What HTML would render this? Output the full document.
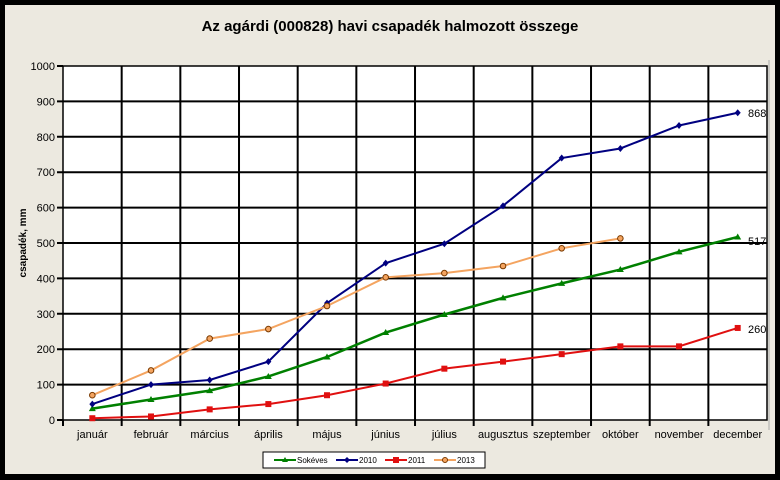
<!DOCTYPE html><html><head><meta charset="utf-8"><style>body{margin:0}svg{display:block}text{font-family:"Liberation Sans",Arial,sans-serif}</style></head><body>
<svg width="780" height="480" viewBox="0 0 780 480" xmlns="http://www.w3.org/2000/svg">
<rect x="0" y="0" width="780" height="480" fill="#000"/>
<rect x="5" y="5" width="770" height="469" fill="#ECE9E0"/>
<text x="390" y="31" text-anchor="middle" font-size="15" font-weight="bold">Az agárdi (000828) havi csapadék halmozott összege</text>
<rect x="63" y="66" width="704" height="354" fill="#fff" stroke="#000" stroke-width="1.5"/>
<line x1="769" y1="60" x2="769" y2="430" stroke="#aaa" stroke-width="1"/>
<g id="g" stroke="#000" stroke-width="2"></g>
<g id="lab" font-size="11" fill="#000"></g>
<text transform="translate(26,243) rotate(-90)" text-anchor="middle" font-size="10" font-weight="bold">csapadék, mm</text>
<g id="s"></g>
<g font-size="11"><text x="748" y="117">868</text><text x="748" y="245">517</text><text x="748" y="333">260</text></g>
<rect x="263" y="452" width="222" height="16" fill="#fff" stroke="#000" stroke-width="1"/>
<g font-size="8">
<line x1="274" y1="460" x2="296" y2="460" stroke="#008000" stroke-width="2"/><path d="M285 457 L288 462 L282 462Z" fill="#008000"/><text x="297" y="463">Sokéves</text>
<line x1="336" y1="460" x2="358" y2="460" stroke="#000080" stroke-width="2"/><path d="M347 457 L350 460 L347 463 L344 460Z" fill="#000080"/><text x="359" y="463">2010</text>
<line x1="385" y1="460" x2="407" y2="460" stroke="#e01010" stroke-width="2"/><rect x="393" y="457" width="6" height="6" fill="#e01010"/><text x="408" y="463">2011</text>
<line x1="434" y1="460" x2="456" y2="460" stroke="#F4A460" stroke-width="2"/><circle cx="445" cy="460" r="2.5" fill="#F4A460" stroke="#7a3a00"/><text x="457" y="463">2013</text>
</g>
</svg>
<script>
var ns="http://www.w3.org/2000/svg",g=document.getElementById("g"),lab=document.getElementById("lab"),s=document.getElementById("s");
function el(p,t,a,txt){var e=document.createElementNS(ns,t);for(var k in a)e.setAttribute(k,a[k]);if(txt)e.textContent=txt;p.appendChild(e);return e;}
var X0=63,W=58.67,Y0=420,H=0.354;
for(var i=1;i<10;i++){var y=Y0-i*35.4;el(g,"line",{x1:57,y1:y,x2:767,y2:y});}
el(g,"line",{x1:57,y1:66,x2:63,y2:66});el(g,"line",{x1:57,y1:420,x2:63,y2:420});
for(var i=1;i<12;i++){var x=X0+i*W;el(g,"line",{x1:x,y1:66,x2:x,y2:426});}
el(g,"line",{x1:63,y1:420,x2:63,y2:426});
for(var i=0;i<=10;i++)el(lab,"text",{x:55,y:Y0-i*35.4+4,"text-anchor":"end"},String(i*100));
var m=["január","február","március","április","május","június","július","augusztus","szeptember","október","november","december"];
m.forEach(function(t,i){el(lab,"text",{x:X0+W*(i+0.5),y:438,"text-anchor":"middle"},t);});
function P(i,v){return [X0+W*(i+0.5),Y0-v*H];}
var D=[["#008000","tri",[32,58,83,123,178,247,298,345,386,425,475,517],2.5],
["#000080","dia",[45,100,113,165,330,443,498,605,740,767,832,868],2],
["#e01010","sq",[5,10,30,45,70,103,145,165,186,208,208,260],2],
["#F4A460","cir",[70,140,230,257,322,403,415,435,485,513],2]];
D.forEach(function(d){var pts=d[2].map(function(v,i){return P(i,v).join(",");}).join(" ");
el(s,"polyline",{points:pts,fill:"none",stroke:d[0],"stroke-width":d[3]});
d[2].forEach(function(v,i){var p=P(i,v),x=p[0],y=p[1];
if(d[1]=="tri")el(s,"path",{d:"M"+x+" "+(y-3.5)+"L"+(x+3.5)+" "+(y+2.5)+"L"+(x-3.5)+" "+(y+2.5)+"Z",fill:d[0]});
if(d[1]=="dia")el(s,"path",{d:"M"+x+" "+(y-3.5)+"L"+(x+3)+" "+y+"L"+x+" "+(y+3.5)+"L"+(x-3)+" "+y+"Z",fill:d[0]});
if(d[1]=="sq")el(s,"rect",{x:x-3,y:y-3,width:6,height:6,fill:d[0]});
if(d[1]=="cir")el(s,"circle",{cx:x,cy:y,r:2.8,fill:d[0],stroke:"#7a3a00","stroke-width":1});});});
</script>
</body></html>
